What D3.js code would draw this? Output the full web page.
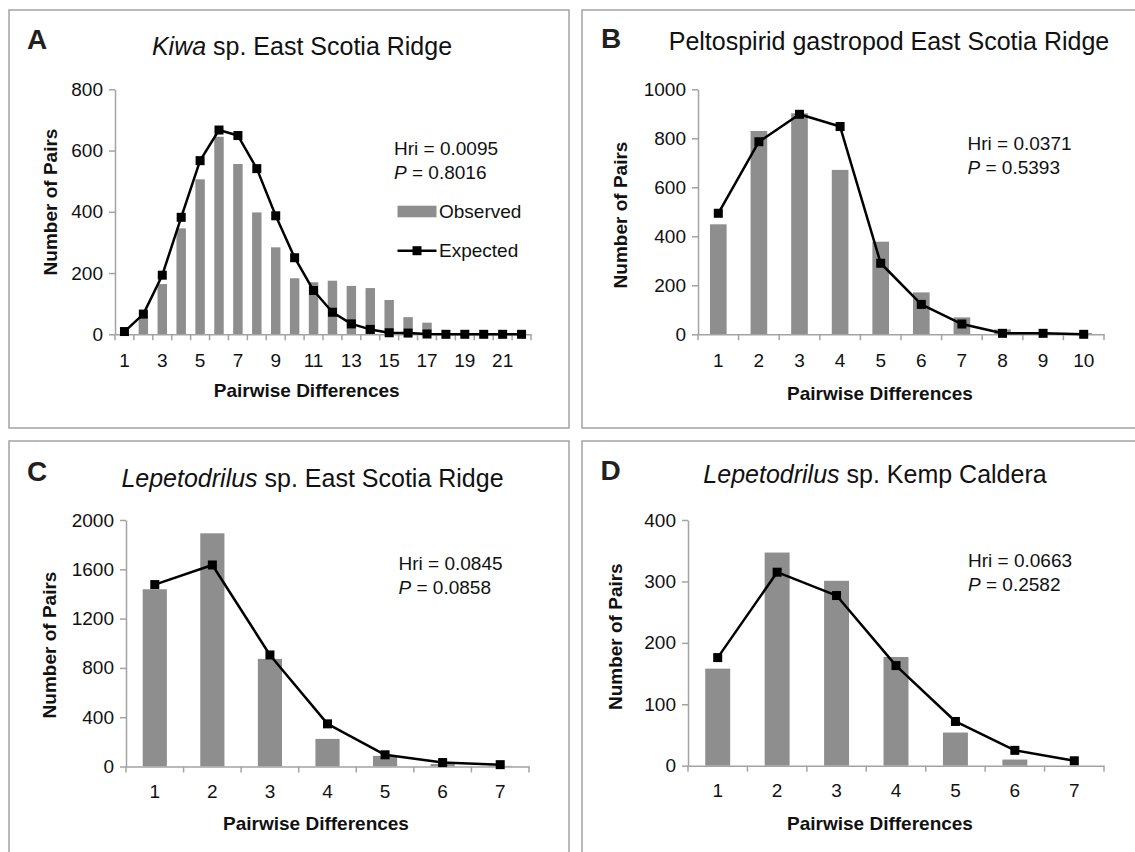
<!DOCTYPE html>
<html>
<head>
<meta charset="utf-8">
<script src="https://cdn.jsdelivr.net/npm/d3@7"></script>
<style>
  body { margin: 0; background: #fff; }
  svg { display: block; font-family: "Liberation Sans", Arial, sans-serif; }
</style>
</head>
<body>
<svg id="chart" width="1135" height="852"></svg>
<script>
// ---- data ----
// A: Kiwa sp. East Scotia Ridge
const kiwaDiffs = [1, 2, 3, 4, 5, 6, 7, 8, 9, 10, 11, 12, 13, 14, 15, 16, 17, 18, 19, 20, 21, 22];
const kiwaObserved = [0, 55, 164, 346, 506, 645, 556, 398, 284, 183, 170, 175, 158, 151, 112, 56, 38, 2, 0, 0, 0, 0];
const kiwaExpected = [9, 66, 193, 382, 567, 667, 649, 541, 387, 250, 143, 72, 34, 16, 5, 4, 1, 0, 0, 0, 0, 0];
const kiwaYTicks = [0, 200, 400, 600, 800];
const kiwaXLabels = [1, 3, 5, 7, 9, 11, 13, 15, 17, 19, 21];

// B: Peltospirid gastropod East Scotia Ridge
const peltDiffs = [1, 2, 3, 4, 5, 6, 7, 8, 9, 10];
const peltObserved = [449, 830, 902, 671, 378, 171, 69, 20, 6, 5];
const peltExpected = [494, 786, 898, 848, 290, 122, 42, 4, 4, 0];
const peltYTicks = [0, 200, 400, 600, 800, 1000];

// C: Lepetodrilus sp. East Scotia Ridge
const lepEsrDiffs = [1, 2, 3, 4, 5, 6, 7];
const lepEsrObserved = [1438, 1892, 873, 224, 86, 20, 5];
const lepEsrExpected = [1476, 1635, 905, 346, 95, 32, 15];
const lepEsrYTicks = [0, 400, 800, 1200, 1600, 2000];

// D: Lepetodrilus sp. Kemp Caldera
const lepKcDiffs = [1, 2, 3, 4, 5, 6, 7];
const lepKcObserved = [158, 347, 301, 177, 54, 10, 0];
const lepKcExpected = [176, 315, 277, 163, 72, 25, 8];
const lepKcYTicks = [0, 100, 200, 300, 400];

const svg = d3.select("#chart");
const axisColor = "#a3a3a3";
const barColor = "#8e8e8e";

function drawPanel(p) {
  const g = svg.append("g");

  // panel frame
  g.append("rect")
    .attr("x", p.box[0]).attr("y", p.box[1])
    .attr("width", p.box[2]).attr("height", p.box[3])
    .attr("fill", "none").attr("stroke", axisColor).attr("stroke-width", 1.5);

  // panel letter
  g.append("text")
    .attr("x", p.letter[0]).attr("y", p.letter[1])
    .attr("font-size", 28).attr("font-weight", "bold").attr("fill", "#231f20")
    .text(p.letterText);

  // title, first word italic where needed
  const t = g.append("text")
    .attr("x", p.title[0]).attr("y", p.title[1])
    .attr("text-anchor", "middle").attr("font-size", 25).attr("fill", "#111");
  if (p.titleItalic) t.append("tspan").attr("font-style", "italic").text(p.titleItalic);
  t.append("tspan").text(p.titleRest);

  const x = d3.scaleBand().domain(p.cats).range([p.plot.x0, p.plot.x1]);
  const y = d3.scaleLinear().domain([0, d3.max(p.yTicks)]).range([p.plot.y0, p.plot.yTop]);
  const bw = x.bandwidth() * p.barFrac;

  // bars
  g.append("g").selectAll("rect")
    .data(p.cats)
    .join("rect")
    .attr("x", (d) => x(d) + (x.bandwidth() - bw) / 2)
    .attr("y", (d, i) => y(p.observed[i]))
    .attr("width", bw)
    .attr("height", (d, i) => y(0) - y(p.observed[i]))
    .attr("fill", barColor);

  // y axis
  const ya = g.append("g")
    .attr("transform", `translate(${p.plot.x0},0)`)
    .call(d3.axisLeft(y).tickValues(p.yTicks).tickFormat(d3.format("d"))
      .tickSize(6).tickSizeOuter(0).tickPadding(6));
  ya.select(".domain").attr("stroke", axisColor).attr("stroke-width", 1.5);
  ya.selectAll(".tick line").attr("stroke", axisColor).attr("stroke-width", 1.5);
  ya.selectAll("text").attr("font-size", 19).attr("fill", "#111").attr("font-family", null);

  // x axis: labels at category centres, tick marks at category boundaries
  const xa = g.append("g")
    .attr("transform", `translate(0,${p.plot.y0})`)
    .call(d3.axisBottom(x).tickValues(p.xLabels).tickSize(0).tickSizeOuter(0).tickPadding(p.xPad));
  xa.select(".domain").attr("stroke", axisColor).attr("stroke-width", 1.5);
  xa.selectAll("text").attr("font-size", 19).attr("fill", "#111").attr("font-family", null);
  const bounds = p.cats.map((c) => x(c)).concat([p.plot.x1]);
  g.append("g").selectAll("line")
    .data(bounds)
    .join("line")
    .attr("x1", (d) => d).attr("x2", (d) => d)
    .attr("y1", p.plot.y0).attr("y2", p.plot.y0 + 6)
    .attr("stroke", axisColor).attr("stroke-width", 1.5);

  // expected line with square markers
  const line = d3.line()
    .x((d) => x(d) + x.bandwidth() / 2)
    .y((d, i) => y(p.expected[i]));
  g.append("path")
    .datum(p.cats)
    .attr("d", line)
    .attr("fill", "none").attr("stroke", "#000").attr("stroke-width", 2.5)
    .attr("stroke-linejoin", "round");
  const ms = 9;
  g.append("g").selectAll("rect")
    .data(p.cats)
    .join("rect")
    .attr("x", (d) => x(d) + x.bandwidth() / 2 - ms / 2)
    .attr("y", (d, i) => y(p.expected[i]) - ms / 2)
    .attr("width", ms).attr("height", ms)
    .attr("fill", "#000");

  // axis titles
  g.append("text")
    .attr("transform", `translate(${p.yLabel[0]},${p.yLabel[1]}) rotate(-90)`)
    .attr("dy", "0.35em")
    .attr("text-anchor", "middle").attr("font-size", 19).attr("font-weight", "bold").attr("fill", "#111")
    .text("Number of Pairs");
  g.append("text")
    .attr("x", p.xLabel[0]).attr("y", p.xLabel[1])
    .attr("text-anchor", "middle").attr("font-size", 19).attr("font-weight", "bold").attr("fill", "#111")
    .text("Pairwise Differences");

  // statistics
  const s = g.append("g").attr("font-size", 19).attr("fill", "#111");
  s.append("text").attr("x", p.stats[0]).attr("y", p.stats[1]).text(p.hri);
  const pt = s.append("text").attr("x", p.stats[0]).attr("y", p.stats[1] + 24);
  pt.append("tspan").attr("font-style", "italic").text("P");
  pt.append("tspan").text(p.pval);

  return { g, x, y };
}

const a = drawPanel({
  box: [9, 10, 560, 418],
  plot: { x0: 115, x1: 531, yTop: 89.3, y0: 334.3 },
  letterText: "A", letter: [27, 49],
  titleItalic: "Kiwa", titleRest: " sp. East Scotia Ridge", title: [302, 55],
  cats: kiwaDiffs, observed: kiwaObserved, expected: kiwaExpected,
  yTicks: kiwaYTicks, xLabels: kiwaXLabels, barFrac: 0.5, xPad: 19,
  yLabel: [50.7, 202], xLabel: [306.7, 397],
  stats: [394, 155], hri: "Hri = 0.0095", pval: " = 0.8016"
});

// legend (panel A only)
const lg = a.g.append("g").attr("font-size", 19).attr("fill", "#111");
lg.append("rect").attr("x", 397.5).attr("y", 205.7).attr("width", 39).attr("height", 11.6).attr("fill", barColor);
lg.append("text").attr("x", 439).attr("y", 218).text("Observed");
lg.append("line").attr("x1", 397.5).attr("x2", 436.5).attr("y1", 250.7).attr("y2", 250.7)
  .attr("stroke", "#000").attr("stroke-width", 2.5);
lg.append("rect").attr("x", 417 - 4.5).attr("y", 250.7 - 4.5).attr("width", 9).attr("height", 9).attr("fill", "#000");
lg.append("text").attr("x", 439).attr("y", 257).text("Expected");

drawPanel({
  box: [582, 10, 600, 418],
  plot: { x0: 698, x1: 1104, yTop: 89.3, y0: 334.3 },
  letterText: "B", letter: [601, 48],
  titleItalic: null, titleRest: "Peltospirid gastropod East Scotia Ridge", title: [889, 50],
  cats: peltDiffs, observed: peltObserved, expected: peltExpected,
  yTicks: peltYTicks, xLabels: peltDiffs, barFrac: 0.41, xPad: 19,
  yLabel: [620.5, 215], xLabel: [880, 400],
  stats: [967.5, 150], hri: "Hri = 0.0371", pval: " = 0.5393"
});

drawPanel({
  box: [9, 441, 560, 500],
  plot: { x0: 126, x1: 529, yTop: 520, y0: 766.5 },
  letterText: "C", letter: [27, 481],
  titleItalic: "Lepetodrilus", titleRest: " sp. East Scotia Ridge", title: [312.5, 486.7],
  cats: lepEsrDiffs, observed: lepEsrObserved, expected: lepEsrExpected,
  yTicks: lepEsrYTicks, xLabels: lepEsrDiffs, barFrac: 0.42, xPad: 18,
  yLabel: [49, 645], xLabel: [316, 830],
  stats: [398.5, 570], hri: "Hri = 0.0845", pval: " = 0.0858"
});

drawPanel({
  box: [582, 441, 600, 500],
  plot: { x0: 688, x1: 1104, yTop: 520, y0: 765.7 },
  letterText: "D", letter: [600.6, 480],
  titleItalic: "Lepetodrilus", titleRest: " sp. Kemp Caldera", title: [875, 483],
  cats: lepKcDiffs, observed: lepKcObserved, expected: lepKcExpected,
  yTicks: lepKcYTicks, xLabels: lepKcDiffs, barFrac: 0.42, xPad: 18,
  yLabel: [615, 636.7], xLabel: [880, 830],
  stats: [968, 566.7], hri: "Hri = 0.0663", pval: " = 0.2582"
});
</script>
</body>
</html>
